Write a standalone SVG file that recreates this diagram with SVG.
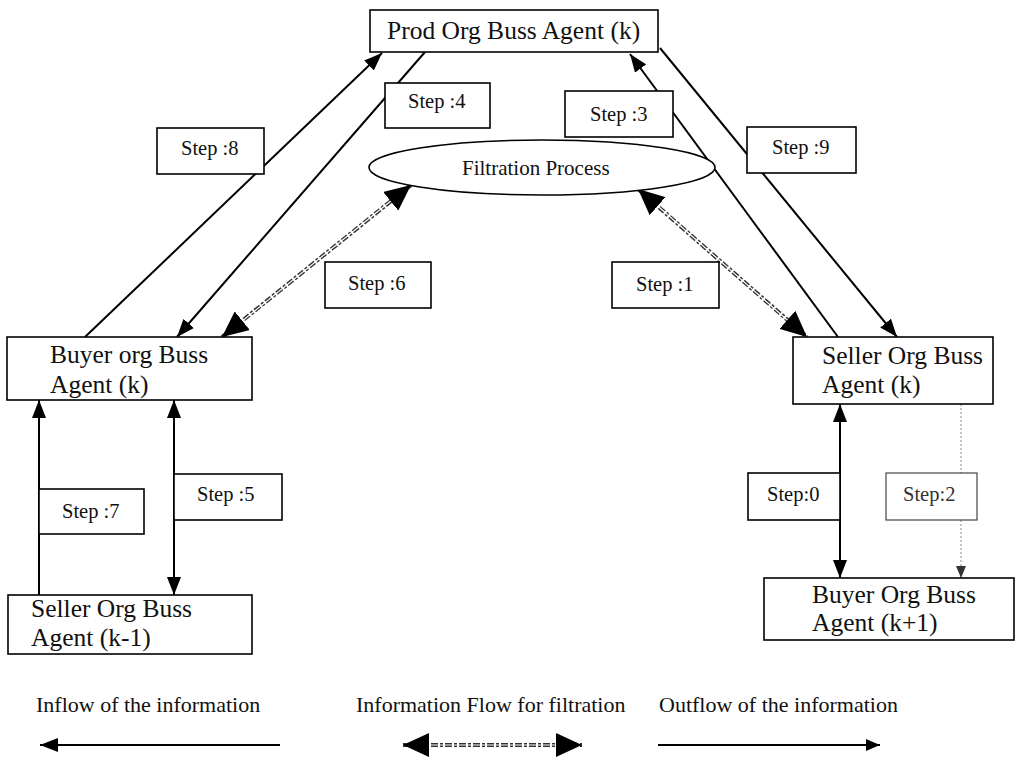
<svg xmlns="http://www.w3.org/2000/svg" width="1017" height="759" viewBox="0 0 1017 759">
<style>
.bg{fill:#fff}
.box{fill:#fff;stroke:#000;stroke-width:1.6}
.node{font-family:"Liberation Serif","Times New Roman",serif;font-size:25.5px;fill:#111}
.step{font-family:"Liberation Serif","Times New Roman",serif;font-size:20.5px;fill:#111}
.leg{font-family:"Liberation Serif","Times New Roman",serif;font-size:22px;fill:#111}
.flow{stroke:#000;stroke-width:2;fill:none}
.dout{stroke:#333;stroke-width:4;stroke-dasharray:7 2 3 2;fill:none}
.din{stroke:#fff;stroke-width:1.2;fill:none}
.carrier{stroke:none;fill:none}
.dot{stroke:#888;stroke-width:1;stroke-dasharray:2 2;fill:none}
</style>
<defs>
<marker id="ah" markerUnits="userSpaceOnUse" markerWidth="18" markerHeight="14" refX="18" refY="7" orient="auto-start-reverse">
<path d="M0,0 L18,7 L0,14 z" fill="#000"/>
</marker>
<marker id="ahm" markerUnits="userSpaceOnUse" markerWidth="14" markerHeight="12" refX="14" refY="6" orient="auto-start-reverse">
<path d="M0,0 L14,6 L0,12 z" fill="#000"/>
</marker>
<marker id="ahs" markerUnits="userSpaceOnUse" markerWidth="12" markerHeight="10" refX="12" refY="5" orient="auto-start-reverse">
<path d="M0,0 L12,5 L0,10 z" fill="#333"/>
</marker>
<marker id="ahb" markerUnits="userSpaceOnUse" markerWidth="26" markerHeight="24" refX="26" refY="12" orient="auto-start-reverse">
<path d="M0,0 L26,12 L0,24 z" fill="#000"/>
</marker>
</defs>
<rect class="bg" x="0" y="0" width="1017" height="759"/>

<g id="connectors">
<line class="flow" x1="85" y1="337" x2="382" y2="53" marker-end="url(#ah)"/>
<line class="flow" x1="425" y1="52" x2="177" y2="337" marker-end="url(#ah)"/>
<line class="flow" x1="838" y1="337" x2="630" y2="54" marker-end="url(#ah)"/>
<line class="flow" x1="660" y1="48" x2="897" y2="337" marker-end="url(#ah)"/>
<line class="dout" x1="222" y1="337" x2="411" y2="185"/>
<line class="din" x1="236" y1="326" x2="397" y2="196"/>
<line class="carrier" x1="222" y1="337" x2="411" y2="185" marker-start="url(#ahb)" marker-end="url(#ahb)"/>
<line class="dout" x1="638" y1="189" x2="807" y2="337"/>
<line class="din" x1="652" y1="201" x2="793" y2="325"/>
<line class="carrier" x1="638" y1="189" x2="807" y2="337" marker-start="url(#ahb)" marker-end="url(#ahb)"/>
<line class="flow" x1="39" y1="595" x2="39" y2="400" marker-end="url(#ah)"/>
<line class="flow" x1="174" y1="400" x2="174" y2="595" marker-start="url(#ah)" marker-end="url(#ah)"/>
<line class="flow" x1="840" y1="404" x2="840" y2="578" marker-start="url(#ah)" marker-end="url(#ah)"/>
<line class="dot" x1="961" y1="404" x2="961" y2="578" marker-end="url(#ahs)"/>
</g>

<g id="prod-org">
<rect class="box" x="370" y="10" width="288" height="42"/>
<text class="node" x="387" y="39">Prod Org Buss Agent (k)</text>
</g>
<g id="filtration-process">
<ellipse cx="542" cy="167.5" rx="173" ry="27.5" fill="#fff" stroke="#000" stroke-width="1.6"/>
<text class="step" x="462" y="175" style="font-size:21px">Filtration Process</text>
</g>
<g id="buyer-org-k">
<rect class="box" x="7" y="337" width="245" height="63"/>
<text class="node" x="50" y="363">Buyer org Buss</text>
<text class="node" x="50" y="393">Agent (k)</text>
</g>
<g id="seller-org-k">
<rect class="box" x="793" y="337" width="200" height="67"/>
<text class="node" x="822" y="364">Seller Org Buss</text>
<text class="node" x="822" y="393">Agent (k)</text>
</g>
<g id="seller-org-k-1">
<rect class="box" x="8" y="595" width="244" height="59"/>
<text class="node" x="31" y="617">Seller Org Buss</text>
<text class="node" x="31" y="646">Agent (k-1)</text>
</g>
<g id="buyer-org-k1">
<rect class="box" x="764" y="578" width="250" height="62"/>
<text class="node" x="812" y="603">Buyer Org Buss</text>
<text class="node" x="812" y="631">Agent (k+1)</text>
</g>

<g id="step8"><rect class="box" x="157" y="128" width="107" height="46"/><text class="step" x="181" y="155">Step :8</text></g>
<g id="step4"><rect class="box" x="385" y="83" width="105" height="45"/><text class="step" x="408" y="108">Step :4</text></g>
<g id="step3"><rect class="box" x="565" y="91" width="108" height="46"/><text class="step" x="590" y="121">Step :3</text></g>
<g id="step9"><rect class="box" x="747" y="127" width="109" height="46"/><text class="step" x="772" y="154">Step :9</text></g>
<g id="step6"><rect class="box" x="325" y="262" width="106" height="46"/><text class="step" x="348" y="290">Step :6</text></g>
<g id="step1"><rect class="box" x="612" y="262" width="107" height="46"/><text class="step" x="636" y="291">Step :1</text></g>
<g id="step7"><rect class="box" x="39" y="489" width="105" height="45"/><text class="step" x="62" y="518">Step :7</text></g>
<g id="step5"><rect class="box" x="174" y="474" width="108" height="46"/><text class="step" x="197" y="501">Step :5</text></g>
<g id="step0"><rect class="box" x="748" y="473" width="92" height="47"/><text class="step" x="767" y="501">Step:0</text></g>
<g id="step2"><rect x="886" y="473" width="91" height="47" fill="#fff" stroke="#444" stroke-width="1.2"/><text class="step" x="903" y="501" style="fill:#333">Step:2</text></g>

<g id="legend">
<text class="leg" x="36" y="712">Inflow of the information</text>
<text class="leg" x="356" y="712">Information Flow for filtration</text>
<text class="leg" x="659" y="712">Outflow of the information</text>
<line class="flow" x1="280" y1="745" x2="40" y2="745" marker-end="url(#ah)"/>
<line class="dout" x1="403" y1="745" x2="582" y2="745"/>
<line class="din" x1="420" y1="745" x2="565" y2="745"/>
<line class="carrier" x1="403" y1="745" x2="582" y2="745" marker-start="url(#ahb)" marker-end="url(#ahb)"/>
<line class="flow" x1="658" y1="745" x2="880" y2="745" marker-end="url(#ahm)"/>
</g>
</svg>
